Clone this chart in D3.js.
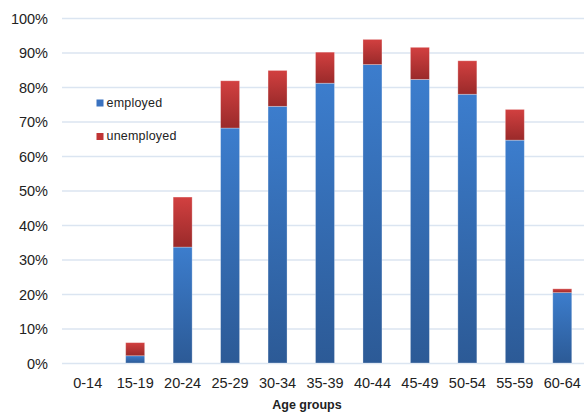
<!DOCTYPE html>
<html>
<head>
<meta charset="utf-8">
<script src="https://cdn.jsdelivr.net/npm/d3@7"></script>
<style>
  body { margin: 0; background: #fff; }
  text { font-family: Arial, "Liberation Sans", sans-serif; fill: #222; }
</style>
</head>
<body>
<div id="vis"></div>
<script>
// Data (share of age group, %)
const ageGroups = ['0-14', '15-19', '20-24', '25-29', '30-34', '35-39', '40-44', '45-49', '50-54', '55-59', '60-64'];
const employed = [0, 2.1, 33.6, 68.1, 74.4, 81.1, 86.5, 82.2, 77.9, 64.6, 20.4];
const unemployed = [0, 3.8, 14.5, 13.7, 10.4, 9.0, 7.3, 9.3, 9.7, 8.9, 1.1];
const yTicks = [0, 10, 20, 30, 40, 50, 60, 70, 80, 90, 100];
const seriesNames = ['employed', 'unemployed'];

const W = 584, H = 412;
const margin = { top: 18, right: 0, bottom: 49, left: 63 };

const svg = d3.select('#vis')
    .append('svg')
    .attr('width', W)
    .attr('height', H);

// Gradients for bar segments
const defs = svg.append('defs');
const grads = [
    { id: 'gBlue', top: '#3c7dcd', bottom: '#2c5a96' },
    { id: 'gRed', top: '#d24040', bottom: '#9a2a2a' }
];
grads.forEach(g => {
    const lg = defs.append('linearGradient')
        .attr('id', g.id)
        .attr('x1', 0).attr('y1', 0).attr('x2', 0).attr('y2', 1);
    lg.append('stop').attr('offset', '0%').attr('stop-color', g.top);
    lg.append('stop').attr('offset', '100%').attr('stop-color', g.bottom);
});

const xScale = d3.scaleBand()
    .domain(ageGroups)
    .range([64, 586])
    .paddingInner(0.6)
    .paddingOuter(0.3);

const yScale = d3.scaleLinear()
    .domain([0, 100])
    .range([363, 18]);

// Gridlines
svg.append('g')
    .selectAll('line')
    .data(yTicks)
    .join('line')
    .attr('x1', 62)
    .attr('x2', W)
    .attr('y1', d => yScale(d) + 0.5)
    .attr('y2', d => yScale(d) + 0.5)
    .attr('stroke', '#dbe5f1')
    .attr('stroke-width', 1.5);

// Y axis labels
const yAxis = d3.axisLeft(yScale)
    .tickValues(yTicks)
    .tickFormat(d => d + '%')
    .tickSize(0)
    .tickPadding(0);
const yg = svg.append('g')
    .attr('transform', 'translate(48,0)')
    .call(yAxis);
yg.select('.domain').remove();
yg.selectAll('text')
    .style('font-size', '14.5px')
    .attr('fill', '#222')
    .attr('dy', '0.36em');

// X axis labels
const xAxis = d3.axisBottom(xScale).tickSize(0).tickPadding(0);
const xg = svg.append('g')
    .attr('transform', 'translate(0,378)')
    .call(xAxis);
xg.select('.domain').remove();
xg.selectAll('text')
    .style('font-size', '14.5px')
    .attr('fill', '#222')
    .attr('dy', '0.72em');

// Stacked bars
const rows = ageGroups.map((g, i) => ({ group: g, employed: employed[i], unemployed: unemployed[i] }));
const stacked = d3.stack().keys(seriesNames)(rows);
const fills = { employed: 'url(#gBlue)', unemployed: 'url(#gRed)' };

svg.append('g')
    .selectAll('g')
    .data(stacked)
    .join('g')
    .attr('fill', d => fills[d.key])
    .selectAll('rect')
    .data(d => d.filter(s => s[1] - s[0] > 0))
    .join('rect')
    .attr('x', d => xScale(d.data.group))
    .attr('y', d => yScale(d[1]))
    .attr('width', xScale.bandwidth())
    .attr('height', d => yScale(d[0]) - yScale(d[1]))
    .attr('stroke', 'rgba(255,255,255,0.35)')
    .attr('stroke-width', 0.8);

// Legend
const legendColors = { employed: '#3a72c0', unemployed: '#c03434' };
const legend = svg.append('g')
    .selectAll('g')
    .data(seriesNames)
    .join('g')
    .attr('transform', (d, i) => `translate(96.5,${99.5 + i * 33.5})`);
legend.append('rect')
    .attr('width', 7)
    .attr('height', 7)
    .attr('fill', d => legendColors[d]);
legend.append('text')
    .attr('x', 10)
    .attr('y', 7)
    .style('font-size', '12.5px')
    .style('letter-spacing', '0.2px')
    .text(d => d);

// Axis title
svg.append('text')
    .attr('x', 307)
    .attr('y', 409)
    .attr('text-anchor', 'middle')
    .style('font-size', '12.5px')
    .style('font-weight', 'bold')
    .text('Age groups');
</script>
</body>
</html>
